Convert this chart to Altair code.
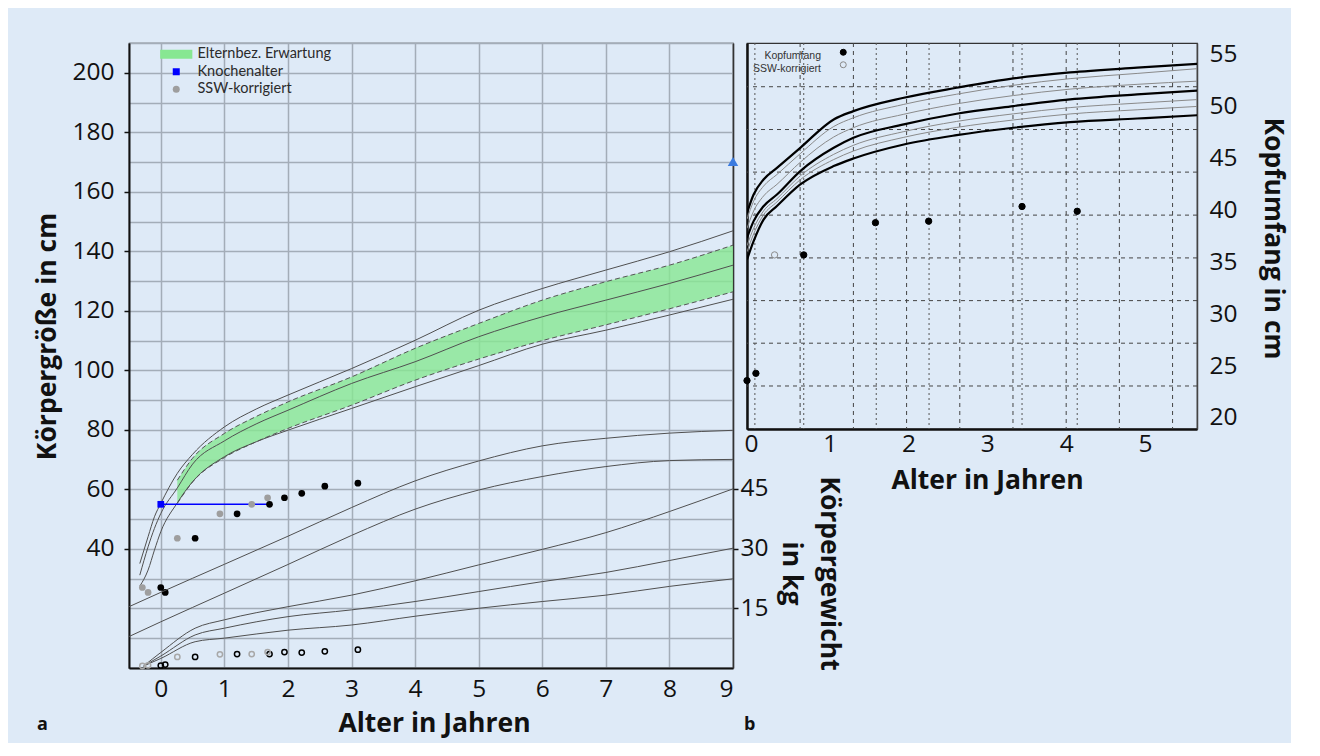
import altair as alt
import pandas as pd

BG = "#deeaf7"
FONT = "Open Sans"
GRID = "#a3adb8"
INK = "#111111"
LFS = 24.5   # tick label font size
TFS = 26.5   # axis title font size

# ---------------- Panel a: Körpergröße / Körpergewicht ----------------
pct_t = [-0.33, -0.2, -0.1, 0, 0.26, 0.5, 1, 1.5, 2, 3, 4, 5, 6, 7, 8, 9]
p97 = [35.1, 44.1, 50.8, 55.3, 65.4, 71.8, 81.0, 87.0, 91.7, 100.6, 110.1, 120.2, 127.5, 133.7, 139.85, 146.9]
p50 = [31.2, 40.7, 46.9, 51.9, 60.5, 68.5, 76.3, 82.0, 86.6, 95.6, 102.9, 111.3, 118.0, 123.6, 129.2, 135.35]
p3 = [27.5, 32.9, 39.6, 45.8, 55.5, 62.6, 71.0, 76.0, 79.9, 87.2, 94.5, 101.6, 108.8, 113.5, 118.6, 123.9]

band_t = [0.26, 0.5, 1, 1.5, 2, 3, 4, 5, 6, 7, 8, 9]
band_hi = [63.1, 70.5, 78.8, 84.5, 89.4, 97.8, 107.4, 115.76, 123.6, 129.8, 135.35, 142.07]
band_lo = [55.3, 62.5, 70.7, 76.0, 80.5, 88.3, 96.7, 103.8, 110.0, 115.3, 120.7, 126.4]

w12_t = [-0.5, 0, 1, 2, 3, 4, 5, 6, 7, 8, 9]
w1 = [15.4, 19.0, 26.05, 33.1, 40.3, 47.0, 52.0, 55.8, 57.7, 59.0, 59.7]
w2 = [7.9, 11.6, 18.8, 26.0, 33.3, 39.9, 44.7, 48.1, 50.6, 52.1, 52.4]
w35_t = [-0.27, 0, 0.54, 1, 2, 3, 4, 5, 6, 7, 8, 9]
w3 = [0.5, 3.9, 10.0, 12.1, 15.4, 18.3, 21.9, 25.9, 29.8, 34.0, 39.3, 45.0]
w4 = [0.5, 3.0, 8.3, 10.0, 12.9, 14.6, 16.7, 19.2, 21.7, 24.0, 27.0, 30.1]
w5 = [0.5, 2.4, 6.6, 7.5, 9.5, 10.8, 13.0, 15.0, 16.7, 18.3, 20.5, 22.4]

ht_t = [0.0, 0.07, 0.54, 1.2, 1.71, 1.945, 2.217, 2.58, 3.1]
ht_cm = [27.05, 25.4, 43.6, 51.8, 55.0, 57.2, 58.7, 61.1, 62.1]
wt_kg = [0.6, 0.85, 2.77, 3.5, 3.5, 4.0, 3.87, 4.2, 4.6]
ssw_t = [-0.29, -0.2, 0.26, 0.93, 1.43, 1.68]
ssw_cm = [27.05, 25.4, 43.6, 51.8, 55.0, 57.2]
ssw_kg = [0.5, 0.68, 2.77, 3.44, 3.5, 4.0]

ka_t = [0.0]
ka_cm = [55.0]
ka_line_t = [0.0, 1.71]
ka_line_cm = [55.0, 55.0]
ziel_t = [9]
ziel_cm = [170.2]

legend_a = ["Elternbez.  Erwartung", "Knochenalter", "SSW-korrigiert"]

# ---------------- Panel b: Kopfumfang ----------------
hc_t = [-0.05, 0.034, 0.16, 0.33, 0.626, 1.05, 1.30, 1.94, 2.61, 3.33, 4.05, 4.90, 5.70]
hc_top = [39.75, 41.51, 42.96, 44.08, 46.01, 48.74, 49.54, 50.83, 51.79, 52.69, 53.27, 53.72, 54.10]
hc_t1 = [39.15, 40.87, 42.32, 43.44, 45.45, 48.06, 48.90, 50.19, 51.17, 52.03, 52.67, 53.17, 53.65]
hc_t2 = [38.26, 39.92, 41.37, 42.49, 44.62, 47.05, 47.95, 49.24, 50.24, 51.04, 51.66, 52.12, 52.44]
hc_mid = [37.34, 38.95, 40.39, 41.51, 43.77, 46.01, 46.97, 48.26, 49.29, 50.03, 50.67, 51.15, 51.53]
hc_t3 = [36.59, 38.26, 39.93, 41.11, 43.31, 45.38, 46.25, 47.57, 48.55, 49.28, 49.88, 50.31, 50.67]
hc_t4 = [36.00, 37.71, 39.56, 40.80, 42.94, 44.88, 45.70, 47.02, 47.97, 48.69, 49.27, 49.67, 50.01]
hc_bot = [35.25, 37.02, 39.10, 40.40, 42.48, 44.25, 44.98, 46.33, 47.23, 47.94, 48.48, 48.83, 49.16]

kopf_t = [-0.05, 0.063, 0.67, 1.58, 2.255, 3.44, 4.14]
kopf_cm = [23.6, 24.3, 35.7, 38.8, 38.95, 40.36, 39.9]
kopf_ssw_t = [0.30]
kopf_ssw_cm = [35.7]

hc_grid_t = [0.624, 1.30, 1.975, 2.65, 3.325, 4.0, 4.675, 5.35]
hc_grid_cm = [23.08, 27.2, 31.3, 35.41, 39.53, 43.67, 47.77, 51.89]
hc_meas_t = [0.05, 0.67, 1.59, 2.26, 3.44, 4.14]
legend_b = ["Kopfumfang", "SSW-korrigiert"]


def long(t, curves):
    rows = []
    for name, vals in curves:
        for tt, v in zip(t, vals):
            rows.append({"t": tt, "v": v, "curve": name})
    return pd.DataFrame(rows)


# ---------- encodings panel a ----------
axis_xa = alt.Axis(values=list(range(10)), title="Alter in Jahren", grid=True, gridColor=GRID, gridWidth=1.5,
                   tickSize=0, labelPadding=9, labelFontSize=LFS, domainColor=INK, domainWidth=2,
                   titleFontSize=TFS, titleFontWeight="bold", titleX=305, titleY=55, titleBaseline="middle")
sc_xa = alt.Scale(domain=[-0.5, 9], nice=False, zero=False)


def XA(f="t"):
    return alt.X(f"{f}:Q", scale=sc_xa, axis=axis_xa)


major = "datum.value >= 40 && datum.value % 20 == 0"
axis_cm = alt.Axis(orient="left", values=list(range(0, 211, 10)),
                   labelExpr=f"({major}) ? datum.label : ''",
                   tickOpacity={"condition": {"test": major, "value": 1}, "value": 0},
                   grid=True, gridColor=GRID, gridWidth=1.5, tickSize=5, tickColor=INK, tickWidth=1.5,
                   labelFontSize=LFS, labelPadding=10, domainColor=INK, domainWidth=2,
                   title="Körpergröße in cm", titleFontSize=TFS, titleFontWeight="bold", titleAngle=-90,
                   titleX=-82, titleY=293, titleAlign="center", titleBaseline="middle")
sc_cm = alt.Scale(domain=[0, 210], nice=False, zero=False)


def YCM(f="v"):
    return alt.Y(f"{f}:Q", scale=sc_cm, axis=axis_cm)


axis_kg = alt.Axis(orient="right", values=[15, 30, 45], grid=False, tickSize=5, tickColor=INK, tickWidth=1.5,
                   labelFontSize=LFS, labelPadding=2, domainColor="#333333", domainWidth=1.5,
                   title=["Körpergewicht", "in kg"], titleAngle=90, titleFontSize=TFS, titleFontWeight="bold",
                   titleX=95, titleY=530, titleAlign="center", titleBaseline="middle", titleLineHeight=38)
sc_kg = alt.Scale(domain=[0, 157], nice=False, zero=False)


def YKG(f="v"):
    return alt.Y(f"{f}:Q", scale=sc_kg, axis=axis_kg)


pct_df = long(pct_t, [("P97", p97), ("P50", p50), ("P3", p3)])
band_df = pd.DataFrame({"t": band_t, "hi": band_hi, "lo": band_lo})
band_edges = long(band_t, [("hi", band_hi), ("lo", band_lo)])
ht_df = pd.DataFrame({"t": ht_t, "v": ht_cm})
leg_df = pd.concat([
    pd.DataFrame({"t": ssw_t, "v": ssw_cm, "series": "SSW-korrigiert"}),
    pd.DataFrame({"t": ka_t, "v": ka_cm, "series": "Knochenalter"}),
])
ka_line = pd.DataFrame({"t": ka_line_t, "v": ka_line_cm})
ziel_df = pd.DataFrame({"t": ziel_t, "v": ziel_cm})

wcurves = pd.concat([long(w12_t, [("W1", w1), ("W2", w2)]),
                     long(w35_t, [("W3", w3), ("W4", w4), ("W5", w5)])])
wt_df = pd.DataFrame({"t": ht_t, "v": wt_kg})
wssw_df = pd.DataFrame({"t": ssw_t, "v": ssw_kg})

leg_a = alt.Legend(title=None, orient="none", legendX=40, legendY=4, labelFont="Lato", labelFontSize=14.5,
                   labelColor="#2b2b2b", symbolSize=49, labelOffset=14, rowPadding=2.5,
                   symbolStrokeWidth=0, padding=0)

band = alt.Chart(band_df).mark_area(color="#87e792", opacity=0.8, interpolate="monotone").encode(
    x=XA(), y=YCM("hi"), y2="lo:Q")
band_lines = alt.Chart(band_edges).mark_line(color="#555555", strokeWidth=1, strokeDash=[5, 3],
                                             interpolate="monotone").encode(x=XA(), y=YCM(), detail="curve:N")
pct_lines = alt.Chart(pct_df).mark_line(color="#505050", strokeWidth=1, interpolate="monotone").encode(
    x=XA(), y=YCM(), detail="curve:N")
ka_rule = alt.Chart(ka_line).mark_line(color="#0000ff", strokeWidth=1.5).encode(x=XA(), y=YCM())
ht_pts = alt.Chart(ht_df).mark_point(filled=True, color="#000000", size=45, opacity=1).encode(x=XA(), y=YCM())
leg_pts = alt.Chart(leg_df).mark_point(filled=True, size=45, opacity=1).encode(
    x=XA(), y=YCM(),
    color=alt.Color("series:N", scale=alt.Scale(domain=legend_a, range=["#87e792", "#0000ff", "#9e9e9e"]),
                    legend=leg_a),
    shape=alt.Shape("series:N", scale=alt.Scale(domain=legend_a,
                                                range=["M-4.6,-1.3H4.6V1.3H-4.6Z", "square", "circle"]),
                    legend=leg_a))
ziel = alt.Chart(ziel_df).mark_point(shape="triangle-up", filled=True, color="#3a7be0", size=110,
                                     opacity=1).encode(x=XA(), y=YCM())
label_a = alt.Chart(pd.DataFrame({"label": ["a"]})).mark_text(
    fontSize=18, fontWeight="bold", font=FONT, align="left", baseline="middle", color=INK).encode(
    x=alt.value(-92), y=alt.value(682), text="label:N")

cm_layer = alt.layer(band, band_lines, pct_lines, ka_rule, ht_pts, leg_pts, ziel, label_a)

w_lines = alt.Chart(wcurves).mark_line(color="#505050", strokeWidth=1, interpolate="monotone").encode(
    x=XA(), y=YKG(), detail="curve:N")
wt_pts = alt.Chart(wt_df).mark_point(filled=False, color="#000000", size=28, strokeWidth=1.5,
                                     opacity=1).encode(x=XA(), y=YKG())
wssw_pts = alt.Chart(wssw_df).mark_point(filled=False, color="#a8a8a8", size=28, strokeWidth=1.5,
                                         opacity=1).encode(x=XA(), y=YKG())
kg_layer = alt.layer(w_lines, wt_pts, wssw_pts)

panel_a = alt.layer(cm_layer, kg_layer).resolve_scale(y="independent").properties(width=604, height=625)

# ---------- encodings panel b ----------
axis_xb = alt.Axis(values=[0, 1, 2, 3, 4, 5], grid=False, tickSize=0, labelPadding=3.5, labelFontSize=LFS,
                   domainColor=INK, domainWidth=2.5, title="Alter in Jahren", titleFontSize=TFS,
                   titleFontWeight="bold", titleX=240, titleY=51, titleBaseline="middle")
sc_xb = alt.Scale(domain=[-0.05, 5.66], nice=False, zero=False)


def XB(f="t"):
    return alt.X(f"{f}:Q", scale=sc_xb, axis=axis_xb)


sc_hc = alt.Scale(domain=[18.94, 56.1], nice=False, zero=False)
axis_hc_left = alt.Axis(orient="left", labels=False, ticks=False, grid=False, title=None,
                        domainColor=INK, domainWidth=2.5)
axis_hc_right = alt.Axis(orient="right", values=[20, 25, 30, 35, 40, 45, 50, 55], grid=False, ticks=False,
                         labelPadding=12, labelFontSize=LFS, domainColor="#444444", domainWidth=1.5,
                         title="Kopfumfang in cm", titleAngle=90, titleFontSize=TFS, titleFontWeight="bold",
                         titleX=75, titleY=195, titleAlign="center", titleBaseline="middle")


def YBL(f="v"):
    return alt.Y(f"{f}:Q", scale=sc_hc, axis=axis_hc_left)


def YBR(f="v"):
    return alt.Y(f"{f}:Q", scale=sc_hc, axis=axis_hc_right)


hgrid = alt.Chart(pd.DataFrame({"v": hc_grid_cm})).mark_rule(
    color="#444444", strokeWidth=1, strokeDash=[4, 4]).encode(y=YBL())
vgrid = alt.Chart(pd.DataFrame({"t": hc_grid_t})).mark_rule(
    color="#444444", strokeWidth=1, strokeDash=[4, 4]).encode(x=XB())
vmeas = alt.Chart(pd.DataFrame({"t": hc_meas_t})).mark_rule(
    color="#555555", strokeWidth=1, strokeDash=[2, 3]).encode(x=XB())
label_b = alt.Chart(pd.DataFrame({"label": ["b"]})).mark_text(
    fontSize=18, fontWeight="bold", font=FONT, align="left", baseline="middle", color=INK).encode(
    x=alt.value(-3), y=alt.value(682), text="label:N")


def legend_text(label, ypix):
    return alt.Chart(pd.DataFrame({"label": [label]})).mark_text(
        font="Liberation Sans", fontSize=10.5, color="#333333", align="right", baseline="middle").encode(
        x=alt.value(74), y=alt.value(ypix), text="label:N")


leg_b_text = [legend_text(legend_b[0], 12.5), legend_text(legend_b[1], 25.5)]
grid_layer = alt.layer(hgrid, vgrid, vmeas, label_b, *leg_b_text)

thin_df = long(hc_t, [("t1", hc_t1), ("t2", hc_t2), ("t3", hc_t3), ("t4", hc_t4)])
thick_df = long(hc_t, [("top", hc_top), ("mid", hc_mid), ("bot", hc_bot)])
kopf_df = pd.concat([
    pd.DataFrame({"t": kopf_t, "v": kopf_cm, "series": "Kopfumfang"}),
    pd.DataFrame({"t": kopf_ssw_t, "v": kopf_ssw_cm, "series": "SSW-korrigiert"}),
])

# legend symbols of panel b (placed right of the right-aligned texts)
leg_b_symbols = alt.Legend(title=None, orient="none", legendX=709, legendY=4, labelExpr="''",
                           symbolSize=36, symbolStrokeWidth=1, symbolOpacity=1,
                           labelFontSize=10.5, rowPadding=1.5, padding=0)

thin = alt.Chart(thin_df).mark_line(color="#8a8a8a", strokeWidth=1, interpolate="monotone", clip=True).encode(
    x=XB(), y=YBR(), detail="curve:N")
thick = alt.Chart(thick_df).mark_line(color="#000000", strokeWidth=2.2, interpolate="monotone",
                                      clip=True).encode(x=XB(), y=YBR(), detail="curve:N")
kopf = alt.Chart(kopf_df).mark_point(shape="circle", size=40, strokeWidth=1, opacity=1).encode(
    x=XB(), y=YBR(),
    fill=alt.Fill("series:N", scale=alt.Scale(domain=legend_b, range=["#000000", "transparent"]),
                  legend=leg_b_symbols),
    stroke=alt.Stroke("series:N", scale=alt.Scale(domain=legend_b, range=["#000000", "#8a8a8a"]),
                      legend=leg_b_symbols))
curve_layer = alt.layer(thin, thick, kopf)

panel_b = alt.layer(grid_layer, curve_layer).resolve_scale(y="independent").properties(width=450, height=386)

chart = alt.hconcat(panel_a, panel_b, spacing=14, bounds="flush").configure(
    background=BG, padding={"left": 25, "top": 32, "right": 5, "bottom": 5}
).configure_view(stroke="#333333", strokeWidth=1.2).configure_axis(
    labelFont=FONT, titleFont=FONT, labelColor=INK, titleColor=INK
)

chart.save("out.html", embed_options={"renderer": "svg", "actions": False})
